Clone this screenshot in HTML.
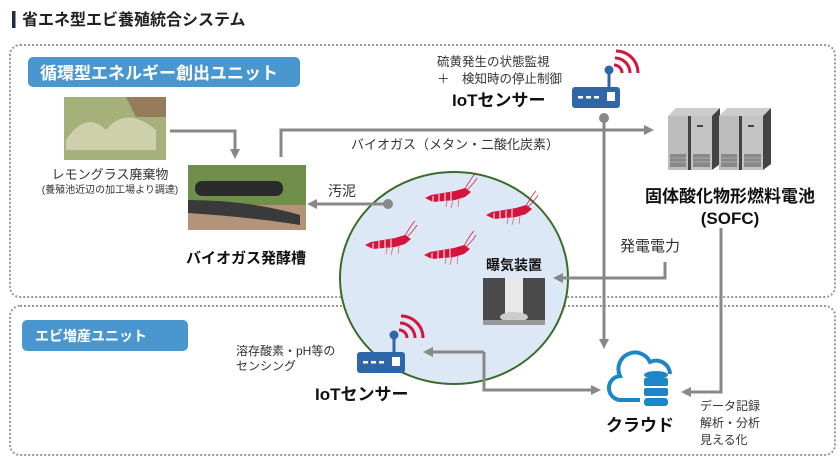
<!DOCTYPE html>
<html><head><meta charset="utf-8"><style>
html,body{margin:0;padding:0;background:#fff}
svg{display:block}
text{font-family:"Liberation Sans","Noto Sans CJK JP",sans-serif}
</style></head><body>
<svg width="840" height="458" viewBox="0 0 840 458" xmlns="http://www.w3.org/2000/svg">
<defs>
<marker id="ah" markerWidth="10" markerHeight="10" refX="7" refY="5" orient="auto" markerUnits="userSpaceOnUse"><path d="M0,0 L10,5 L0,10 z" fill="#888"/></marker>
<g id="shrimp">
<path d="M0,10 L6,7 L30,3 L40,0 L46,4 L40,9 L30,12 L8,14 z" fill="#d4143c"/>
<path d="M8,8 v6 M14,6 v8 M20,5 v8 M26,4 v8" stroke="#fff" stroke-width="1"/>
<path d="M40,1 Q46,-10 50,-14 M42,2 Q50,-6 52,-10" stroke="#d4143c" stroke-width="0.8" fill="none"/>
<path d="M28,12 l-2,8 M34,11 l-1,8 M22,13 l-1,6" stroke="#e86080" stroke-width="0.8"/>
</g>
<g id="router">
<rect x="0" y="0" width="48" height="21" rx="3" fill="#2f66a8"/>
<rect x="6" y="9" width="5" height="2.5" fill="#fff"/><rect x="14" y="9" width="5" height="2.5" fill="#fff"/><rect x="22" y="9" width="5" height="2.5" fill="#fff"/>
<rect x="35" y="5" width="8" height="9" fill="#fff"/>
<rect x="35.5" y="-15" width="3" height="15" fill="#2f66a8"/>
<circle cx="37" cy="-17" r="4.5" fill="#2f66a8"/>
<path d="M42,-22 a8,8 0 0 1 8,8" stroke="#d4143c" stroke-width="3" fill="none"/>
<path d="M43,-29 a15,15 0 0 1 15,15" stroke="#d4143c" stroke-width="3" fill="none"/>
<path d="M44,-36 a22,22 0 0 1 22,22" stroke="#d4143c" stroke-width="3" fill="none"/>
</g>
<g id="server">
<polygon points="0,8 8,0 52,0 44,8" fill="#ccc"/>
<rect x="0" y="8" width="20" height="54" fill="#bdbdbd"/>
<rect x="20" y="8" width="3" height="54" fill="#444"/>
<rect x="23" y="8" width="21" height="54" fill="#c4c4c4"/>
<polygon points="44,8 52,0 52,56 44,62" fill="#444"/>
<rect x="29" y="17" width="6" height="2" fill="#444"/>
<rect x="2" y="46" width="16" height="13" fill="#888"/><rect x="25" y="46" width="17" height="13" fill="#888"/>
<path d="M2,50 h16 M2,54 h16 M25,50 h17 M25,54 h17" stroke="#aaa"/>
</g>
</defs>

<!-- title -->
<rect x="12" y="11" width="3.5" height="17" fill="#1f2d44"/>
<text x="22" y="25" font-size="16" font-weight="bold" fill="#222">省エネ型エビ養殖統合システム</text>

<!-- dashed boxes -->
<rect x="10" y="45" width="825" height="252" rx="10" fill="none" stroke="#999" stroke-width="2" stroke-dasharray="2,2"/>
<rect x="10" y="306" width="825" height="149" rx="10" fill="none" stroke="#999" stroke-width="2" stroke-dasharray="2,2"/>

<!-- pills -->
<rect x="28" y="57" width="272" height="30" rx="5" fill="#4a97cf"/>
<text x="40" y="79" font-size="17" font-weight="bold" fill="#fff">循環型エネルギー創出ユニット</text>
<rect x="22" y="320" width="166" height="31" rx="5" fill="#4a97cf"/>
<text x="35" y="341" font-size="14" font-weight="bold" fill="#fff">エビ増産ユニット</text>

<!-- circle pond -->
<ellipse cx="454" cy="278" rx="114" ry="106" fill="#dce8f5" stroke="#3a6b2a" stroke-width="2"/>
<use href="#shrimp" x="425" y="188"/>
<use href="#shrimp" x="486" y="205"/>
<use href="#shrimp" x="365" y="235"/>
<use href="#shrimp" x="424" y="245"/>

<!-- photos -->
<rect x="64" y="97" width="102" height="63" fill="#a6b07a"/>
<path d="M64,97 h102 v20 h-30 l-10,-20" fill="#8c5a4a" opacity="0.6"/>
<path d="M66,140 q20,-30 40,-10 q20,-25 50,0 v20 h-90z" fill="#d8d8b8" opacity="0.8"/>
<rect x="188" y="165" width="118" height="65" fill="#6f8f4a"/>
<rect x="188" y="205" width="118" height="25" fill="#b3937a"/>
<rect x="195" y="181" width="88" height="15" rx="7" fill="#2b2b2b"/>
<path d="M188,200 q60,0 112,15 v10 q-50,-8 -112,-12z" fill="#3a3a3a"/>
<rect x="483" y="278" width="62" height="47" fill="#4a4a4a"/>
<rect x="505" y="278" width="18" height="38" fill="#e8e8e8"/>
<ellipse cx="514" cy="317" rx="14" ry="5" fill="#ccc"/>
<rect x="483" y="320" width="62" height="5" fill="#999"/>

<!-- connectors -->
<polyline points="170,131 235,131 235,156" fill="none" stroke="#888" stroke-width="3" marker-end="url(#ah)"/>
<polyline points="281,157 281,130 651,130" fill="none" stroke="#888" stroke-width="3" marker-end="url(#ah)"/>
<line x1="388" y1="204" x2="310" y2="204" stroke="#888" stroke-width="3" marker-end="url(#ah)"/>
<circle cx="388" cy="204" r="5" fill="#888"/>
<line x1="604" y1="118" x2="604" y2="346" stroke="#888" stroke-width="3" marker-end="url(#ah)"/>
<circle cx="604" cy="118" r="5" fill="#888"/>
<polyline points="665,262 665,278 556,278" fill="none" stroke="#888" stroke-width="3" marker-end="url(#ah)"/>
<polyline points="721,228 721,392 684,392" fill="none" stroke="#888" stroke-width="3" marker-end="url(#ah)"/>
<polyline points="484,352 484,390 598,390" fill="none" stroke="#888" stroke-width="3" marker-end="url(#ah)"/>
<line x1="484" y1="352" x2="426" y2="352" stroke="#888" stroke-width="3" marker-end="url(#ah)"/>

<!-- routers -->
<use href="#router" x="572" y="87"/>
<use href="#router" x="357" y="352"/>

<!-- servers -->
<use href="#server" x="668" y="108"/>
<use href="#server" x="719" y="108"/>

<!-- cloud -->
<path d="M640,400 h-18 a12,12 0 0 1 -2,-24 a16,16 0 0 1 30,-14 a14,14 0 0 1 20,12" fill="none" stroke="#1f86c6" stroke-width="4"/>
<g fill="#1f86c6">
<ellipse cx="656" cy="375" rx="12" ry="4"/>
<rect x="644" y="378" width="24" height="8" rx="2"/>
<rect x="644" y="388" width="24" height="8" rx="2"/>
<rect x="644" y="398" width="24" height="8" rx="3"/>
</g>

<!-- labels -->
<text x="110" y="179" font-size="13" fill="#333" text-anchor="middle">レモングラス廃棄物</text>
<text x="110" y="193" font-size="10" fill="#333" text-anchor="middle">(養殖池近辺の加工場より調達)</text>
<text x="246" y="263" font-size="15" font-weight="bold" fill="#111" text-anchor="middle">バイオガス発酵槽</text>
<text x="455" y="149" font-size="13" fill="#333" text-anchor="middle">バイオガス（メタン・二酸化炭素）</text>
<text x="328" y="196" font-size="14" fill="#333">汚泥</text>
<text x="437" y="66" font-size="12.5" fill="#333">硫黄発生の状態監視</text>
<text x="437" y="83" font-size="12.5" fill="#333">＋　検知時の停止制御</text>
<text x="452" y="106" font-size="17" font-weight="bold" fill="#111">IoTセンサー</text>
<text x="730" y="202" font-size="17" font-weight="bold" fill="#111" text-anchor="middle">固体酸化物形燃料電池</text>
<text x="730" y="224" font-size="17" font-weight="bold" fill="#111" text-anchor="middle">(SOFC)</text>
<text x="620" y="251" font-size="15" fill="#333">発電電力</text>
<text x="514" y="270" font-size="14" font-weight="bold" fill="#111" text-anchor="middle">曝気装置</text>
<text x="236" y="355" font-size="12" fill="#333">溶存酸素・pH等の</text>
<text x="236" y="370" font-size="12" fill="#333">センシング</text>
<text x="315" y="400" font-size="17" font-weight="bold" fill="#111">IoTセンサー</text>
<text x="640" y="431" font-size="17" font-weight="bold" fill="#111" text-anchor="middle">クラウド</text>
<text x="700" y="410" font-size="12" fill="#333">データ記録</text>
<text x="700" y="427" font-size="12" fill="#333">解析・分析</text>
<text x="700" y="444" font-size="12" fill="#333">見える化</text>
</svg>
</body></html>
